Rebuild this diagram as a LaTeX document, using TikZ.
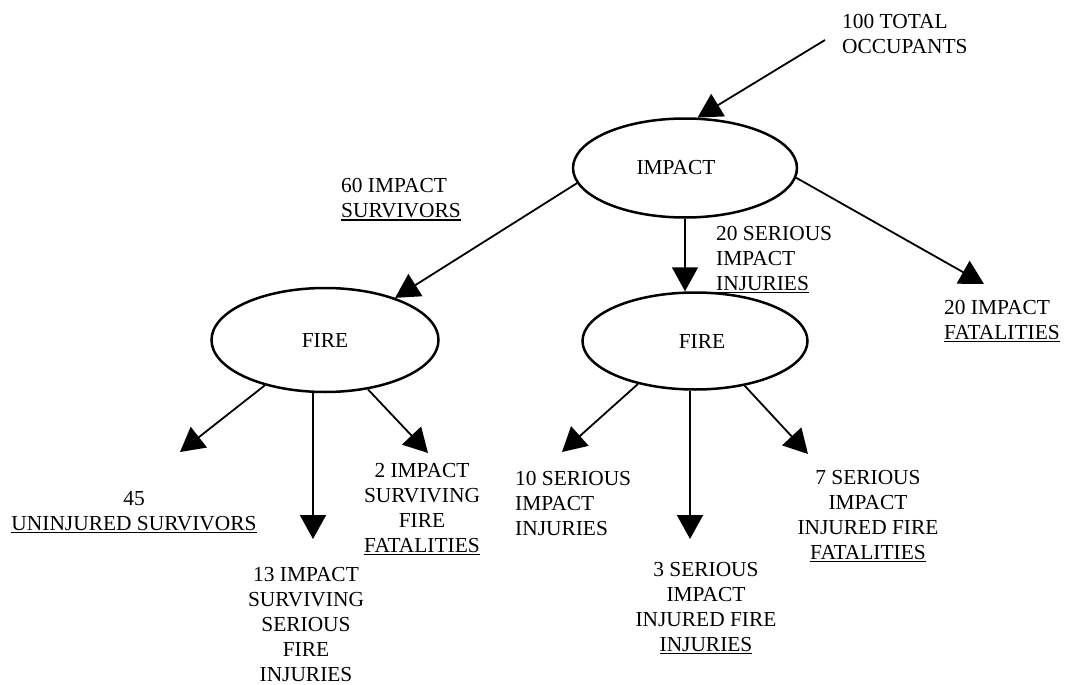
\documentclass[tikz,border=0pt]{standalone}
\usepackage{fontspec}
\setmainfont{Liberation Serif}
\usetikzlibrary{arrows.meta,shapes.geometric}
\newcommand\myul[1]{\vtop{\hbox{#1}\kern1.5pt\hrule height 1.3pt}}
\begin{document}
\begin{tikzpicture}[x=1pt,y=-1pt,
  every node/.style={font=\fontsize{21.4}{25}\selectfont, inner sep=0pt},
  oval/.style={draw, ellipse, line width=2.5pt, inner sep=0pt},
  lbl/.style={align=left, anchor=north west},
  lblc/.style={align=center, anchor=north},
  arr/.style={line width=1.8pt, -{Triangle[length=24pt,width=26pt]}}]
\useasboundingbox (0,0) rectangle (1066,685);

% ellipses
\node[oval, minimum width=224pt, minimum height=99pt] (impact) at (685,168) {\hspace*{-18pt}IMPACT};
\node[oval, minimum width=227pt, minimum height=104pt] (fireL) at (325,340) {FIRE};
\node[oval, minimum width=225pt, minimum height=97pt] (fireR) at (695,341) {FIRE\hspace*{-14pt}};

% labels
\node[lbl] (occ) at (842,14) {100 TOTAL\\OCCUPANTS};
\node[lbl] (s60) at (341,178) {60 IMPACT\\\myul{SURVIVORS}};
\node[lbl] (s20) at (716,226) {20 SERIOUS\\IMPACT\\\myul{INJURIES}};
\node[lbl] (f20) at (944,300) {20 IMPACT\\\myul{FATALITIES}};
\node[lblc] (u45) at (134,491) {45\\\myul{UNINJURED SURVIVORS}};
\node[lblc] (s13) at (306,567) {13 IMPACT\\SURVIVING\\SERIOUS\\FIRE\\INJURIES};
\node[lblc] (f2) at (422,463) {2 IMPACT\\SURVIVING\\FIRE\\\myul{FATALITIES}};
\node[lbl] (s10) at (515,471) {10 SERIOUS\\IMPACT\\INJURIES};
\node[lblc] (s3) at (706,562) {3 SERIOUS\\IMPACT\\INJURED FIRE\\\myul{INJURIES}};
\node[lblc] (s7) at (868,470) {7 SERIOUS\\IMPACT\\INJURED FIRE\\\myul{FATALITIES}};

% free ends
\coordinate (c0) at (825,40);
\coordinate (t20) at (984,284);
\coordinate (t45) at (180,452);
\coordinate (t13) at (313,539);
\coordinate (t2) at (428,453);
\coordinate (t10) at (562,452);
\coordinate (t3) at (690,539);
\coordinate (t7) at (808,454);

% arrows
\draw[arr] (c0) -- (impact.76);
\draw[arr] (impact.188) -- (fireL.31);
\draw[arr] (impact.south) -- (impact.south |- fireR.north);
\draw[arr] (impact.-5) -- (t20);
\draw[arr] (fireL.217) -- (t45);
\draw[arr] (fireL.south -| t13) -- (t13);
\draw[arr] (fireL.-49) -- (t2);
\draw[arr] (fireR.217) -- (t10);
\draw[arr] (fireR.south -| t3) -- (t3);
\draw[arr] (fireR.-42) -- (t7);
\end{tikzpicture}
\end{document}
